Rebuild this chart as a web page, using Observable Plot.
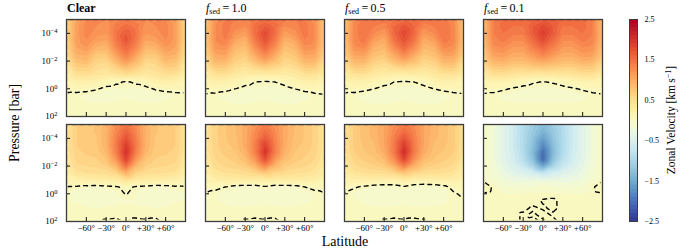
<!DOCTYPE html>
<html><head><meta charset="utf-8">
<script src="https://cdn.jsdelivr.net/npm/d3@7"></script>
<script src="https://cdn.jsdelivr.net/npm/@observablehq/plot@0.6"></script>
<style>
body{margin:0;background:#fff;}
#fig{position:relative;width:690px;height:250px;overflow:hidden;font-family:'Liberation Serif','Times New Roman',serif;color:#000;}
#fig svg text{font-family:'Liberation Serif','Times New Roman',serif !important;}
.lab{position:absolute;white-space:nowrap;line-height:1;font-family:'Liberation Serif','Times New Roman',serif;}
.rot{transform:translate(-50%,-50%) rotate(-90deg);}
sub{font-size:8px;vertical-align:-2px;line-height:0;}
sup{font-size:8px;vertical-align:4px;line-height:0;}
</style></head><body><div id="fig"></div>
<script>
// ---- data (km/s), rows = pressure levels (top -> bottom), cols = latitudes ----
const lats = [-90, -75, -60, -45, -30, -15, 0, 15, 30, 45, 60, 75, 90];
const pressures = [1e-5, 3.16e-5, 1e-4, 3.16e-4, 1e-3, 3.16e-3, 1e-2, 3.16e-2, 0.1, 0.316, 1, 3.16, 10, 31.6, 100];
const latTicks = [-60, -30, 0, 30, 60];
const pressureTicks = [1e-4, 1e-2, 1, 1e2];
const colorbarTicks = [2.5, 1.5, 0.5, -0.5, -1.5, -2.5];
const titles = ["Clear", "1.0", "0.5", "0.1"];

const clearTop = [
 [0.6,1.05,1.25,1.25,1.25,1.3,1.35,1.3,1.25,1.25,1.25,1.05,0.6],
 [0.6,1.1,1.3,1.25,1.2,1.4,1.5,1.4,1.2,1.25,1.3,1.1,0.6],
 [0.6,1.1,1.3,1.2,1.15,1.45,1.65,1.45,1.15,1.2,1.3,1.1,0.6],
 [0.6,1.1,1.25,1.1,1.05,1.4,1.7,1.4,1.05,1.1,1.25,1.1,0.6],
 [0.55,1.05,1.15,0.95,0.9,1.3,1.55,1.3,0.9,0.95,1.15,1.05,0.55],
 [0.5,0.95,1.0,0.75,0.75,1.1,1.4,1.1,0.75,0.75,1.0,0.95,0.5],
 [0.42,0.8,0.85,0.6,0.58,0.9,1.15,0.9,0.58,0.6,0.85,0.8,0.42],
 [0.32,0.62,0.65,0.5,0.45,0.62,0.8,0.62,0.45,0.5,0.65,0.62,0.32],
 [0.22,0.42,0.45,0.38,0.32,0.38,0.45,0.38,0.32,0.38,0.45,0.42,0.22],
 [0.12,0.2,0.22,0.18,0.1,0.03,-0.02,0.03,0.1,0.18,0.22,0.2,0.12],
 [0.05,0.06,0.05,0.02,-0.05,-0.06,-0.05,-0.06,-0.05,0.02,0.05,0.06,0.05],
 [-0.04,-0.05,-0.07,-0.1,-0.12,-0.08,-0.06,-0.08,-0.12,-0.1,-0.07,-0.05,-0.04],
 [-0.03,-0.03,-0.04,-0.05,-0.05,-0.04,-0.03,-0.04,-0.05,-0.05,-0.04,-0.03,-0.03],
 [-0.02,-0.02,-0.02,-0.02,-0.02,-0.02,-0.02,-0.02,-0.02,-0.02,-0.02,-0.02,-0.02],
 [-0.02,-0.02,-0.02,-0.02,-0.02,-0.02,-0.02,-0.02,-0.02,-0.02,-0.02,-0.02,-0.02]
];
const fsed1Top = [
 [0.75,1.2,1.35,1.35,1.35,1.4,1.45,1.4,1.35,1.35,1.35,1.2,0.75],
 [0.75,1.25,1.4,1.3,1.25,1.5,1.65,1.5,1.25,1.3,1.4,1.25,0.75],
 [0.75,1.25,1.4,1.2,1.1,1.5,1.8,1.5,1.1,1.2,1.4,1.25,0.75],
 [0.75,1.25,1.35,1.05,0.95,1.4,1.72,1.4,0.95,1.05,1.35,1.25,0.75],
 [0.7,1.18,1.22,0.9,0.82,1.25,1.55,1.25,0.82,0.9,1.22,1.18,0.7],
 [0.62,1.05,1.08,0.78,0.7,1.05,1.32,1.05,0.7,0.78,1.08,1.05,0.62],
 [0.52,0.9,0.9,0.65,0.58,0.82,1.02,0.82,0.58,0.65,0.9,0.9,0.52],
 [0.4,0.66,0.66,0.48,0.42,0.52,0.62,0.52,0.42,0.48,0.66,0.66,0.4],
 [0.28,0.42,0.42,0.32,0.26,0.25,0.25,0.25,0.26,0.32,0.42,0.42,0.28],
 [0.15,0.22,0.2,0.15,0.07,0.0,-0.02,0.0,0.07,0.15,0.2,0.22,0.15],
 [0.06,0.07,0.05,0.0,-0.06,-0.08,-0.07,-0.08,-0.06,0.0,0.05,0.07,0.06],
 [-0.02,-0.04,-0.08,-0.12,-0.14,-0.1,-0.08,-0.1,-0.14,-0.12,-0.08,-0.04,-0.02],
 [-0.03,-0.03,-0.04,-0.06,-0.06,-0.05,-0.04,-0.05,-0.06,-0.06,-0.04,-0.03,-0.03],
 [-0.02,-0.02,-0.02,-0.02,-0.02,-0.02,-0.02,-0.02,-0.02,-0.02,-0.02,-0.02,-0.02],
 [-0.02,-0.02,-0.02,-0.02,-0.02,-0.02,-0.02,-0.02,-0.02,-0.02,-0.02,-0.02,-0.02]
];
const fsed05Top = [
 [0.8,1.25,1.4,1.4,1.4,1.45,1.5,1.45,1.4,1.4,1.4,1.25,0.8],
 [0.8,1.3,1.45,1.35,1.3,1.55,1.7,1.55,1.3,1.35,1.45,1.3,0.8],
 [0.8,1.3,1.45,1.25,1.15,1.55,1.82,1.55,1.15,1.25,1.45,1.3,0.8],
 [0.8,1.3,1.4,1.1,1.0,1.45,1.72,1.45,1.0,1.1,1.4,1.3,0.8],
 [0.75,1.22,1.28,0.95,0.88,1.28,1.55,1.28,0.88,0.95,1.28,1.22,0.75],
 [0.66,1.1,1.1,0.82,0.76,1.05,1.3,1.05,0.76,0.82,1.1,1.1,0.66],
 [0.52,0.9,0.9,0.66,0.6,0.82,0.98,0.82,0.6,0.66,0.9,0.9,0.52],
 [0.4,0.66,0.66,0.48,0.42,0.52,0.58,0.52,0.42,0.48,0.66,0.66,0.4],
 [0.27,0.42,0.42,0.32,0.26,0.25,0.22,0.25,0.26,0.32,0.42,0.42,0.27],
 [0.14,0.2,0.2,0.14,0.07,0.0,-0.02,0.0,0.07,0.14,0.2,0.2,0.14],
 [0.05,0.06,0.04,0.0,-0.06,-0.08,-0.07,-0.08,-0.06,0.0,0.04,0.06,0.05],
 [-0.03,-0.05,-0.08,-0.12,-0.14,-0.1,-0.08,-0.1,-0.14,-0.12,-0.08,-0.05,-0.03],
 [-0.03,-0.03,-0.04,-0.06,-0.06,-0.05,-0.04,-0.05,-0.06,-0.06,-0.04,-0.03,-0.03],
 [-0.02,-0.02,-0.02,-0.02,-0.02,-0.02,-0.02,-0.02,-0.02,-0.02,-0.02,-0.02,-0.02],
 [-0.02,-0.02,-0.02,-0.02,-0.02,-0.02,-0.02,-0.02,-0.02,-0.02,-0.02,-0.02,-0.02]
];
const fsed01Top = [
 [0.85,1.35,1.5,1.5,1.5,1.55,1.6,1.55,1.5,1.5,1.5,1.35,0.85],
 [0.85,1.35,1.5,1.45,1.45,1.65,1.8,1.65,1.45,1.45,1.5,1.35,0.85],
 [0.85,1.35,1.45,1.38,1.38,1.65,1.9,1.65,1.38,1.38,1.45,1.35,0.85],
 [0.85,1.3,1.38,1.26,1.26,1.52,1.78,1.52,1.26,1.26,1.38,1.3,0.85],
 [0.8,1.22,1.26,1.14,1.14,1.36,1.56,1.36,1.14,1.14,1.26,1.22,0.8],
 [0.72,1.1,1.14,1.02,1.02,1.18,1.34,1.18,1.02,1.02,1.14,1.1,0.72],
 [0.6,0.92,0.96,0.85,0.85,0.95,1.05,0.95,0.85,0.85,0.96,0.92,0.6],
 [0.45,0.68,0.7,0.62,0.62,0.66,0.7,0.66,0.62,0.62,0.7,0.68,0.45],
 [0.28,0.44,0.44,0.38,0.35,0.32,0.32,0.32,0.35,0.38,0.44,0.44,0.28],
 [0.12,0.18,0.16,0.12,0.07,0.02,-0.01,0.02,0.07,0.12,0.16,0.18,0.12],
 [0.05,0.05,0.02,-0.02,-0.05,-0.07,-0.08,-0.07,-0.05,-0.02,0.02,0.05,0.05],
 [-0.02,-0.04,-0.07,-0.09,-0.1,-0.1,-0.1,-0.1,-0.1,-0.09,-0.07,-0.04,-0.02],
 [-0.02,-0.03,-0.04,-0.05,-0.05,-0.05,-0.05,-0.05,-0.05,-0.05,-0.04,-0.03,-0.02],
 [-0.02,-0.02,-0.02,-0.02,-0.02,-0.02,-0.02,-0.02,-0.02,-0.02,-0.02,-0.02,-0.02],
 [-0.02,-0.02,-0.02,-0.02,-0.02,-0.02,-0.02,-0.02,-0.02,-0.02,-0.02,-0.02,-0.02]
];
const clearBottom = [
 [0.4,0.65,0.72,0.76,0.92,1.25,1.45,1.25,0.92,0.76,0.72,0.65,0.4],
 [0.4,0.65,0.72,0.76,0.94,1.3,1.58,1.3,0.94,0.76,0.72,0.65,0.4],
 [0.4,0.65,0.72,0.74,0.94,1.36,1.74,1.36,0.94,0.74,0.72,0.65,0.4],
 [0.4,0.65,0.7,0.72,0.94,1.4,1.9,1.4,0.94,0.72,0.7,0.65,0.4],
 [0.38,0.62,0.67,0.69,0.88,1.36,2.02,1.36,0.88,0.69,0.67,0.62,0.38],
 [0.35,0.58,0.62,0.64,0.76,1.18,1.86,1.18,0.76,0.64,0.62,0.58,0.35],
 [0.3,0.52,0.55,0.57,0.64,0.9,1.48,0.9,0.64,0.57,0.55,0.52,0.3],
 [0.24,0.42,0.45,0.47,0.48,0.58,0.94,0.58,0.48,0.47,0.45,0.42,0.24],
 [0.12,0.22,0.25,0.27,0.28,0.3,0.44,0.3,0.28,0.27,0.25,0.22,0.12],
 [-0.01,-0.02,-0.05,-0.07,-0.04,-0.02,0.05,-0.02,-0.04,-0.07,-0.05,-0.02,-0.01],
 [-0.05,-0.08,-0.12,-0.14,-0.1,-0.06,0.01,-0.06,-0.1,-0.14,-0.12,-0.08,-0.05],
 [-0.04,-0.06,-0.1,-0.12,-0.08,-0.06,-0.06,-0.06,-0.08,-0.12,-0.1,-0.06,-0.04],
 [-0.03,-0.03,-0.04,-0.05,-0.04,-0.04,-0.04,-0.04,-0.04,-0.05,-0.04,-0.03,-0.03],
 [-0.02,-0.02,-0.02,-0.02,-0.02,-0.02,-0.02,-0.02,-0.02,-0.02,-0.02,-0.02,-0.02],
 [-0.02,-0.02,-0.02,-0.02,0.01,0.02,-0.01,0.02,0.01,0.02,-0.02,-0.02,-0.02]
];
const fsed1Bottom = [
 [0.4,0.62,0.74,0.84,1.0,1.2,1.36,1.2,1.0,0.84,0.74,0.62,0.4],
 [0.4,0.62,0.74,0.84,1.0,1.26,1.48,1.26,1.0,0.84,0.74,0.62,0.4],
 [0.4,0.62,0.74,0.82,1.0,1.32,1.64,1.32,1.0,0.82,0.74,0.62,0.4],
 [0.4,0.62,0.72,0.79,1.0,1.36,1.86,1.36,1.0,0.79,0.72,0.62,0.4],
 [0.38,0.6,0.68,0.75,0.94,1.36,2.0,1.36,0.94,0.75,0.68,0.6,0.38],
 [0.35,0.56,0.63,0.69,0.82,1.18,1.76,1.18,0.82,0.69,0.63,0.56,0.35],
 [0.3,0.5,0.56,0.6,0.68,0.9,1.28,0.9,0.68,0.6,0.56,0.5,0.3],
 [0.24,0.4,0.45,0.47,0.5,0.56,0.72,0.56,0.5,0.47,0.45,0.4,0.24],
 [0.14,0.24,0.27,0.28,0.29,0.28,0.27,0.28,0.29,0.28,0.27,0.24,0.14],
 [0.06,0.05,0.0,-0.06,-0.08,-0.08,-0.02,-0.08,-0.08,-0.06,0.0,0.05,0.06],
 [-0.01,-0.05,-0.1,-0.13,-0.14,-0.12,-0.08,-0.12,-0.14,-0.13,-0.1,-0.05,-0.01],
 [-0.02,-0.04,-0.07,-0.1,-0.1,-0.08,-0.06,-0.08,-0.1,-0.1,-0.07,-0.04,-0.02],
 [-0.02,-0.03,-0.03,-0.04,-0.04,-0.04,-0.04,-0.04,-0.04,-0.04,-0.03,-0.03,-0.02],
 [-0.02,-0.02,-0.02,-0.02,-0.02,-0.02,-0.02,-0.02,-0.02,-0.02,-0.02,-0.02,-0.02],
 [-0.02,-0.02,-0.02,-0.02,0.01,0.02,0.01,0.02,-0.02,-0.02,-0.02,-0.02,-0.02]
];
const fsed05Bottom = [
 [0.45,0.68,0.8,0.9,1.05,1.25,1.4,1.25,1.05,0.9,0.8,0.68,0.45],
 [0.45,0.68,0.8,0.9,1.05,1.3,1.52,1.3,1.05,0.9,0.8,0.68,0.45],
 [0.45,0.68,0.8,0.87,1.05,1.36,1.7,1.36,1.05,0.87,0.8,0.68,0.45],
 [0.45,0.68,0.77,0.84,1.05,1.4,1.92,1.4,1.05,0.84,0.77,0.68,0.45],
 [0.42,0.65,0.74,0.8,1.0,1.4,2.06,1.4,1.0,0.8,0.74,0.65,0.42],
 [0.38,0.6,0.68,0.74,0.86,1.24,1.84,1.24,0.86,0.74,0.68,0.6,0.38],
 [0.32,0.53,0.58,0.63,0.7,0.95,1.34,0.95,0.7,0.63,0.58,0.53,0.32],
 [0.24,0.42,0.46,0.48,0.5,0.57,0.75,0.57,0.5,0.48,0.46,0.42,0.24],
 [0.14,0.24,0.24,0.24,0.22,0.22,0.27,0.22,0.2,0.22,0.24,0.26,0.17],
 [0.06,0.02,-0.03,-0.08,-0.1,-0.1,-0.02,-0.1,-0.12,-0.1,-0.05,0.05,0.1],
 [-0.01,-0.06,-0.11,-0.14,-0.15,-0.13,-0.08,-0.13,-0.15,-0.14,-0.1,-0.02,0.03],
 [-0.02,-0.04,-0.07,-0.1,-0.1,-0.08,-0.06,-0.08,-0.1,-0.1,-0.07,-0.04,-0.01],
 [-0.02,-0.03,-0.03,-0.04,-0.04,-0.04,-0.04,-0.04,-0.04,-0.04,-0.03,-0.03,-0.02],
 [-0.02,-0.02,-0.02,-0.02,-0.02,-0.02,-0.02,-0.02,-0.02,-0.02,-0.02,-0.02,-0.02],
 [-0.02,-0.02,-0.02,-0.02,0.01,0.02,0.01,0.02,0.01,-0.02,-0.02,-0.02,-0.02]
];
const fsed01Bottom = [
 [-0.04,-0.22,-0.42,-0.65,-0.9,-1.12,-1.3,-1.12,-0.9,-0.65,-0.42,-0.22,-0.04],
 [-0.04,-0.22,-0.42,-0.65,-0.92,-1.18,-1.42,-1.18,-0.92,-0.65,-0.42,-0.22,-0.04],
 [-0.04,-0.22,-0.42,-0.65,-0.94,-1.24,-1.6,-1.24,-0.94,-0.65,-0.42,-0.22,-0.04],
 [-0.04,-0.22,-0.42,-0.65,-0.94,-1.3,-1.82,-1.3,-0.94,-0.65,-0.42,-0.22,-0.04],
 [-0.04,-0.22,-0.42,-0.62,-0.92,-1.35,-2.05,-1.35,-0.92,-0.62,-0.42,-0.22,-0.04],
 [-0.04,-0.22,-0.4,-0.6,-0.85,-1.28,-2.08,-1.28,-0.85,-0.6,-0.4,-0.22,-0.04],
 [-0.04,-0.2,-0.36,-0.53,-0.7,-1.02,-1.55,-1.02,-0.7,-0.53,-0.36,-0.2,-0.04],
 [-0.03,-0.17,-0.3,-0.42,-0.48,-0.58,-0.76,-0.58,-0.48,-0.42,-0.3,-0.17,-0.03],
 [-0.02,-0.13,-0.22,-0.28,-0.3,-0.3,-0.32,-0.3,-0.3,-0.28,-0.22,-0.13,-0.02],
 [0.08,-0.02,-0.12,-0.16,-0.17,-0.14,-0.08,-0.14,-0.17,-0.16,-0.12,-0.02,0.08],
 [-0.01,-0.03,-0.05,-0.05,-0.05,-0.04,-0.04,-0.04,-0.05,-0.05,-0.05,-0.03,-0.01],
 [-0.02,-0.02,-0.03,-0.03,-0.03,-0.03,0.01,0.02,-0.03,-0.03,-0.03,-0.02,-0.02],
 [-0.02,-0.02,-0.02,-0.02,-0.02,0.01,-0.01,0.02,-0.02,-0.02,-0.02,-0.02,-0.02],
 [-0.02,-0.02,-0.02,-0.02,0.01,-0.01,0.02,-0.01,-0.02,-0.02,-0.02,-0.02,-0.02],
 [-0.02,-0.02,-0.02,-0.02,0.01,0.02,-0.01,0.02,-0.02,-0.02,-0.02,-0.02,-0.02]
];
const grids = [[clearTop, fsed1Top, fsed05Top, fsed01Top], [clearBottom, fsed1Bottom, fsed05Bottom, fsed01Bottom]];

// ---- layout ----
const fig = document.getElementById("fig");
const serif = "'Liberation Serif', 'Times New Roman', serif";
const panelLeft = [66, 205, 344, 483], panelTop = [19, 124];
const pw = 119, ph = 97;
const fillLevels = d3.range(-49, 50, 2).map(k => k * 0.05);
const minus = s => String(s).replace("-", "\u2212");
const latFormat = d => d === 0 ? "0°" : (d > 0 ? "+" + d + "°" : minus(d) + "°");
const ns = "http://www.w3.org/2000/svg";

function place(el, left, top) {
  el.style.position = "absolute"; el.style.left = left + "px"; el.style.top = top + "px";
  fig.appendChild(el);
}

grids.forEach((rowGrids, row) => rowGrids.forEach((grid, col) => {
  const data = [];
  grid.forEach((r, i) => r.forEach((u, j) => data.push({lat: lats[j], p: pressures[i], u})));
  const ml = 40, mr = 1, mt = 1, mb = 16;
  const svg = Plot.plot({
    width: ml + pw + mr, height: mt + ph + mb,
    marginLeft: ml, marginRight: mr, marginTop: mt, marginBottom: mb,
    style: {background: "transparent", overflow: "visible", fontFamily: serif, fontSize: "9px", color: "#000"},
    x: {domain: [-90, 90], axis: null},
    y: {type: "log", domain: [1e-5, 1e2], reverse: true, axis: null},
    color: {type: "linear", scheme: "RdYlBu", reverse: true, domain: [-2.55, 2.45]},
    marks: [
      Plot.contour(data, {x: "lat", y: "p", fill: "u", interpolate: "barycentric", thresholds: fillLevels, pixelSize: 1}),
      Plot.contour(data, {x: "lat", y: "p", value: "u", interpolate: "barycentric", thresholds: [0], pixelSize: 1,
        fill: "none", stroke: "black", strokeWidth: 1.4, strokeDasharray: "5,3", clip: true}),
      Plot.ruleX(latTicks, {x: d => d, stroke: "#111", insetTop: ph - 4}),
      Plot.ruleY(pressureTicks, {y: d => d, stroke: "#111", insetRight: pw - 4}),
      row === 1 ? Plot.axisX(latTicks, {anchor: "bottom", tickSize: 0, tickPadding: 3, tickFormat: latFormat, label: null, fontFamily: serif}) : null,
      col === 0 ? Plot.axisY(pressureTicks, {anchor: "left", tickSize: 0, tickPadding: 9, tickFormat: d => "10^" + Math.round(Math.log10(d)), label: null, fontFamily: serif}) : null,
      Plot.frame({stroke: "#3c3c3c", strokeWidth: 1.3})
    ].filter(Boolean)
  });
  // keep the zero-contour's frame-edge segments out of sight: shrink its clip slightly
  svg.querySelectorAll("clipPath rect").forEach(r => {
    const x = +r.getAttribute("x") || 0, y = +r.getAttribute("y") || 0;
    const w = +r.getAttribute("width"), h = +r.getAttribute("height");
    if (w && h) {
      r.setAttribute("x", x + 1.6); r.setAttribute("y", y + 1.6);
      r.setAttribute("width", w - 3.2); r.setAttribute("height", h - 3.2);
    }
  });
  // superscript exponents on the pressure tick labels
  svg.querySelectorAll("text").forEach(t => {
    const m = /^10\^(-?\d+)$/.exec(t.textContent);
    if (m) {
      t.textContent = "10";
      const ts = document.createElementNS(ns, "tspan");
      ts.setAttribute("dy", "-0.45em");
      ts.setAttribute("font-size", "0.72em");
      ts.textContent = minus(m[1]);
      t.appendChild(ts);
    }
  });
  place(svg, panelLeft[col] - ml, panelTop[row] - mt);
}));

// ---- colorbar ----
const bands = d3.range(-25, 25).map(k => k / 10); // band lower edges, 0.1 km/s wide
const cb = Plot.plot({
  width: 1 + 8 + 30, height: 1 + 202 + 1,
  marginLeft: 1, marginRight: 30, marginTop: 1, marginBottom: 1,
  style: {background: "transparent", overflow: "visible", fontFamily: serif, fontSize: "8px", color: "#000"},
  x: {domain: [0, 1], axis: null},
  y: {domain: [-2.5, 2.5], axis: null},
  color: {type: "linear", scheme: "RdYlBu", reverse: true, domain: [-2.5, 2.5]},
  marks: [
    Plot.rect(bands, {x1: 0, x2: 1, y1: d => d, y2: d => Math.min(2.5, d + 0.12), fill: d => d + 0.05}),
    Plot.axisY(colorbarTicks, {anchor: "right", tickSize: 0, tickPadding: 7, tickFormat: d => minus(d.toFixed(1)), label: null, fontFamily: serif}),
    Plot.frame({stroke: "#3c3c3c", strokeWidth: 1})
  ]
});
place(cb, 628, 18);

// ---- text ----
function label(html, left, top, cls, size, extra) {
  const d = document.createElement("div");
  d.className = "lab " + (cls || "");
  d.innerHTML = html;
  d.style.left = left + "px"; d.style.top = top + "px"; d.style.fontSize = size + "px";
  if (extra) Object.assign(d.style, extra);
  fig.appendChild(d);
}
titles.forEach((t, i) => {
  const html = i === 0 ? "<b>" + t + "</b>" : "<i>f</i><sub>sed</sub>&#8201;=&#8201;" + t;
  label(html, panelLeft[i] + 1, 2, "", 12);
});
label("Pressure [bar]", 15, 123, "rot", 14);
label("Latitude", 345, 235, "", 14, {transform: "translateX(-50%)"});
label("Zonal Velocity [km&#8201;s<sup>\u22121</sup>]", 672, 120, "rot", 11.5);
</script>
</body></html>
